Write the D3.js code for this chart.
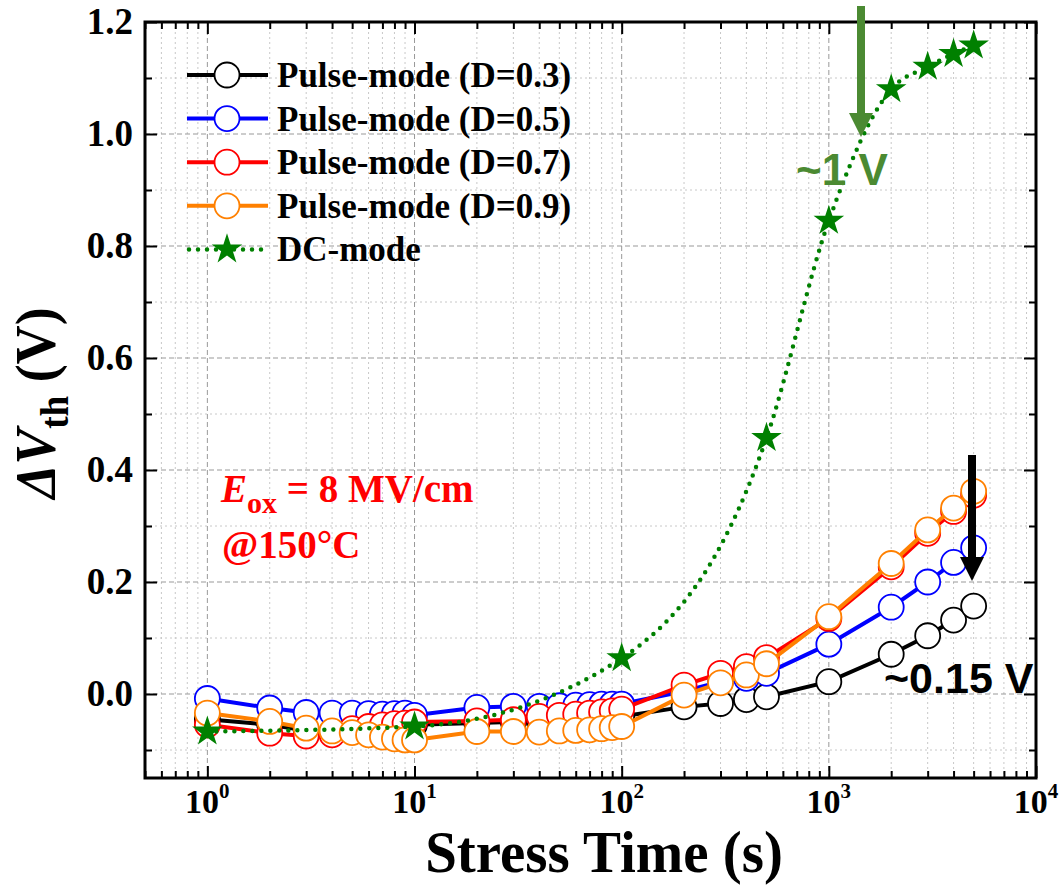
<!DOCTYPE html>
<html><head><meta charset="utf-8">
<script src="https://cdn.jsdelivr.net/npm/d3@7"></script>
<style>body{margin:0;background:#fff}</style>
</head><body><svg id="c" width="1064" height="889" xmlns="http://www.w3.org/2000/svg"></svg>
<script>
// ---------- data ----------
const pulseTimes = [1,2,3,4,5,6,7,8,9,10,20,30,40,50,60,70,80,90,100,200,300,400,500,1000,2000,3000,4000,5000];
const pulseD03 = [-0.045,-0.055,-0.065,-0.068,-0.065,-0.062,-0.060,-0.058,-0.056,-0.055,-0.052,-0.050,-0.048,-0.046,-0.045,-0.044,-0.042,-0.041,-0.040,-0.023,-0.017,-0.010,-0.005,0.022,0.071,0.104,0.132,0.157];
const pulseD05 = [-0.008,-0.025,-0.033,-0.034,-0.034,-0.035,-0.036,-0.035,-0.034,-0.038,-0.024,-0.022,-0.022,-0.021,-0.020,-0.019,-0.018,-0.018,-0.018,0.005,0.022,0.028,0.037,0.089,0.155,0.200,0.235,0.261];
const pulseD07 = [-0.055,-0.070,-0.075,-0.073,-0.062,-0.058,-0.055,-0.053,-0.052,-0.050,-0.048,-0.046,-0.040,-0.038,-0.036,-0.034,-0.032,-0.030,-0.027,0.016,0.037,0.049,0.065,0.135,0.227,0.287,0.326,0.355];
const pulseD09 = [-0.034,-0.049,-0.061,-0.066,-0.069,-0.073,-0.077,-0.080,-0.082,-0.082,-0.067,-0.067,-0.068,-0.066,-0.065,-0.064,-0.062,-0.060,-0.058,-0.002,0.020,0.034,0.054,0.138,0.233,0.293,0.332,0.362];
const dcTimes = [1,10,100,500,1000,2000,3000,4000,5000];
const dcValues = [-0.067,-0.058,0.064,0.457,0.845,1.080,1.120,1.143,1.158];
const seriesNames = ["Pulse-mode (D=0.3)","Pulse-mode (D=0.5)","Pulse-mode (D=0.7)","Pulse-mode (D=0.9)","DC-mode"];
const seriesColors = ["#000000","#0000ff","#ff0000","#ff8000","#008000"];
const xTickValues = [1,10,100,1000,10000];
const yTickValues = [0.0,0.2,0.4,0.6,0.8,1.0,1.2];
const xDomain = [0.5, 10000];
const yDomain = [-0.15, 1.2];

// ---------- layout ----------
const svg = d3.select("#c");
const L = 145, R = 1036, T = 22, B = 778;
const x = d3.scaleLog().domain(xDomain).range([L, R]);
const y = d3.scaleLinear().domain(yDomain).range([B, T]);
const serif = "'Liberation Serif','Times New Roman',serif";
const sans = "'Liberation Sans',Arial,sans-serif";

// grid
const xMinor = [];
[0.1,1,10,100,1000].forEach(d => { for (let k=2;k<=9;k++){ const v=d*k; if (v>=xDomain[0] && v<xDomain[1]) xMinor.push(v);} });
const yMinor = d3.range(-0.1, 1.2, 0.2).map(v => +v.toFixed(2));
const grid = svg.append("g");
grid.selectAll(".xm").data(xMinor).join("line")
  .attr("x1", d=>x(d)).attr("x2", d=>x(d)).attr("y1", T).attr("y2", B)
  .attr("stroke", "#c8c8c8").attr("stroke-width", 1).attr("stroke-dasharray", "2,3");
grid.selectAll(".ym").data(yMinor).join("line")
  .attr("y1", d=>y(d)).attr("y2", d=>y(d)).attr("x1", L).attr("x2", R)
  .attr("stroke", "#c8c8c8").attr("stroke-width", 1).attr("stroke-dasharray", "2,3");
grid.selectAll(".xM").data(xTickValues.slice(0,4)).join("line")
  .attr("x1", d=>x(d)).attr("x2", d=>x(d)).attr("y1", T).attr("y2", B)
  .attr("stroke", "#999").attr("stroke-width", 1).attr("stroke-dasharray", "5,3");
grid.selectAll(".yM").data(yTickValues.slice(0,6)).join("line")
  .attr("y1", d=>y(d)).attr("y2", d=>y(d)).attr("x1", L).attr("x2", R)
  .attr("stroke", "#999").attr("stroke-width", 1).attr("stroke-dasharray", "5,3");

// axes with inside ticks
const tickMajor = 12, tickMinor = 7;
const axB = svg.append("g").attr("transform", `translate(0,${B})`)
  .call(d3.axisBottom(x).tickValues(xTickValues.concat(xMinor)).tickSizeInner(0).tickSizeOuter(0).tickFormat(""));
const axT = svg.append("g").attr("transform", `translate(0,${T})`)
  .call(d3.axisTop(x).tickValues(xTickValues.concat(xMinor)).tickSizeInner(0).tickSizeOuter(0).tickFormat(""));
const axL = svg.append("g").attr("transform", `translate(${L},0)`)
  .call(d3.axisLeft(y).tickValues(yTickValues.concat(yMinor)).tickSizeInner(0).tickSizeOuter(0).tickFormat(""));
const axR = svg.append("g").attr("transform", `translate(${R},0)`)
  .call(d3.axisRight(y).tickValues(yTickValues.concat(yMinor)).tickSizeInner(0).tickSizeOuter(0).tickFormat(""));
[axB,axT,axL,axR].forEach(a => a.select(".domain").remove());
const isMajX = d => xTickValues.includes(d), isMajY = d => yTickValues.includes(d);
axB.selectAll(".tick line").attr("y2", d => -(isMajX(d)?tickMajor:tickMinor)).attr("stroke","#000").attr("stroke-width",2);
axT.selectAll(".tick line").attr("y2", d => (isMajX(d)?tickMajor:tickMinor)).attr("stroke","#000").attr("stroke-width",2);
axL.selectAll(".tick line").attr("x2", d => (isMajY(d)?tickMajor:tickMinor)).attr("stroke","#000").attr("stroke-width",2);
axR.selectAll(".tick line").attr("x2", d => -(isMajY(d)?tickMajor:tickMinor)).attr("stroke","#000").attr("stroke-width",2);

// tick labels
const xl = svg.append("g").attr("font-family", serif).attr("font-weight","bold").attr("fill","#000");
xTickValues.forEach(v => {
  const t = xl.append("text").attr("x", x(v)).attr("y", 813).attr("text-anchor","middle").attr("font-size", 34);
  t.append("tspan").text("10");
  t.append("tspan").attr("font-size", 21).attr("dy", -15).text(Math.round(Math.log10(v)));
});
svg.append("g").selectAll("text").data(yTickValues).join("text")
  .attr("x", 133).attr("y", d => y(d) + 12).attr("text-anchor","end")
  .attr("font-family", serif).attr("font-weight","bold").attr("font-size", 37)
  .text(d => d.toFixed(1));

// axis titles
svg.append("text").attr("transform","translate(604,872) scale(0.95,1)").attr("text-anchor","middle")
  .attr("font-family", serif).attr("font-weight","bold").attr("font-size", 60).text("Stress Time (s)");
const yt = svg.append("text").attr("transform","translate(55,403) rotate(-90) scale(0.93,1)").attr("text-anchor","middle")
  .attr("font-family", serif).attr("font-weight","bold").attr("font-size", 58);
yt.append("tspan").attr("font-style","italic").text("ΔV");
yt.append("tspan").attr("font-size", 40).attr("dy", 13).text("th");
yt.append("tspan").attr("dy", -13).text(" (V)");

// frame
svg.append("rect").attr("x", L).attr("y", T).attr("width", R-L).attr("height", B-T)
  .attr("fill","none").attr("stroke","#000").attr("stroke-width",3);

// series
const pulseSeries = [pulseD03, pulseD05, pulseD07, pulseD09];
const lineGen = d3.line().x(d=>x(d[0])).y(d=>y(d[1]));
const plot = svg.append("g");
pulseSeries.forEach((vals, i) => {
  const pts = pulseTimes.map((t,j)=>[t, vals[j]]);
  const g = plot.append("g");
  g.append("path").attr("d", lineGen(pts)).attr("fill","none").attr("stroke", seriesColors[i]).attr("stroke-width", 4);
  g.selectAll("circle").data(pts).join("circle")
    .attr("cx", d=>x(d[0])).attr("cy", d=>y(d[1])).attr("r", 12.5)
    .attr("fill","#fff").attr("stroke", seriesColors[i]).attr("stroke-width", 1.8);
});
const dcPts = dcTimes.map((t,j)=>[t, dcValues[j]]);
plot.append("path").attr("d", d3.line().x(d=>x(d[0])).y(d=>y(d[1])).curve(d3.curveMonotoneX)(dcPts))
  .attr("fill","none").attr("stroke", seriesColors[4]).attr("stroke-width", 4.5)
  .attr("stroke-linecap","round").attr("stroke-dasharray","0,9");
const star = d3.symbol(d3.symbolStar, 290);
plot.selectAll(".star").data(dcPts).join("path")
  .attr("transform", d=>`translate(${x(d[0])},${y(d[1])})`).attr("d", star)
  .attr("fill", seriesColors[4]);

// legend
const lg = svg.append("g");
const legY = d3.range(5).map(i => 75 + i*43.6);
seriesNames.forEach((name, i) => {
  const yy = legY[i];
  if (i < 4) {
    lg.append("line").attr("x1", 187).attr("x2", 268).attr("y1", yy).attr("y2", yy).attr("stroke", seriesColors[i]).attr("stroke-width", 4);
    lg.append("circle").attr("cx", 227).attr("cy", yy).attr("r", 12.5).attr("fill","#fff").attr("stroke", seriesColors[i]).attr("stroke-width", 1.8);
  } else {
    lg.append("line").attr("x1", 189).attr("x2", 268).attr("y1", yy).attr("y2", yy).attr("stroke", seriesColors[i]).attr("stroke-width", 4.5)
      .attr("stroke-linecap","round").attr("stroke-dasharray","0,9");
    lg.append("path").attr("transform", `translate(227,${yy})`).attr("d", star).attr("fill", seriesColors[i]);
  }
  lg.append("text").attr("x", 277).attr("y", yy + 12).attr("font-family", serif).attr("font-weight","bold")
    .attr("font-size", 35).attr("fill","#000").text(name);
});

// annotations
const ann = svg.append("g").attr("font-family", serif).attr("font-weight","bold").attr("fill","#ff0000").attr("font-size", 39);
const e1 = ann.append("text").attr("x", 221).attr("y", 502);
e1.append("tspan").attr("font-style","italic").text("E");
e1.append("tspan").attr("font-size", 30).attr("dy", 11).text("ox");
e1.append("tspan").attr("dy", -11).text(" = 8 MV/cm");
ann.append("text").attr("x", 222).attr("y", 558).text("@150°C");

const arrowGreen = "#4b8a32";
function arrow(xc, y0, y1, color) {
  const g = svg.append("g");
  g.append("line").attr("x1", xc).attr("x2", xc).attr("y1", y0).attr("y2", y1 - 20).attr("stroke", color).attr("stroke-width", 8);
  g.append("path").attr("d", d3.line()([[xc-12, y1-24],[xc+12, y1-24],[xc, y1]])).attr("fill", color);
}
arrow(861, 6, 137, arrowGreen);
arrow(972, 455, 581, "#000");
svg.append("text").attr("x", 796).attr("y", 185).attr("font-family", sans).attr("font-weight","bold")
  .attr("font-size", 44).attr("fill", arrowGreen).text("~1 V");
svg.append("text").attr("x", 884).attr("y", 693).attr("font-family", sans).attr("font-weight","bold")
  .attr("font-size", 43).attr("fill", "#000").text("~0.15 V");
</script></body></html>
